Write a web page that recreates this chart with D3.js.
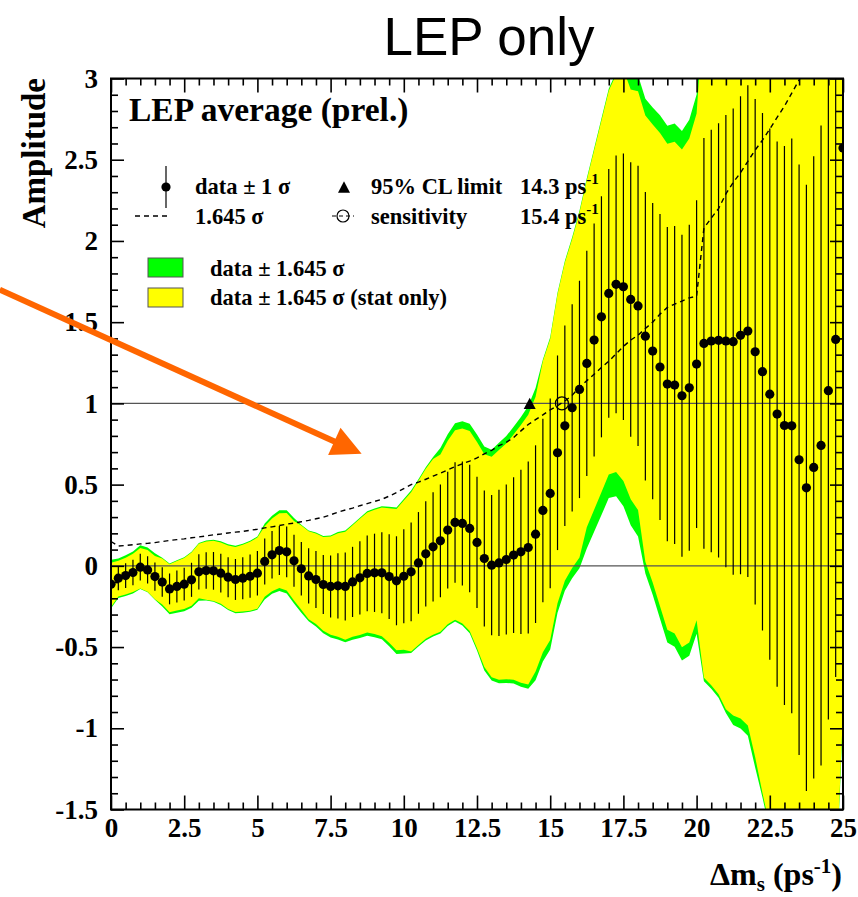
<!DOCTYPE html>
<html>
<head>
<meta charset="utf-8">
<script src="https://cdn.jsdelivr.net/npm/d3@7/dist/d3.min.js"></script>
<style>
  body { margin: 0; background: #fff; }
  svg { display: block; }
</style>
</head>
<body>
<svg id="chart" width="858" height="897"></svg>
<script>
// Oscillation frequency scan points (ps^-1)
const dm = [
  0, 0.25, 0.5, 0.75, 1, 1.25, 1.5, 1.75, 2, 2.25,
  2.5, 2.75, 3, 3.25, 3.5, 3.75, 4, 4.25, 4.5, 4.75,
  5, 5.25, 5.5, 5.75, 6, 6.25, 6.5, 6.75, 7, 7.25,
  7.5, 7.75, 8, 8.25, 8.5, 8.75, 9, 9.25, 9.5, 9.75,
  10, 10.25, 10.5, 10.75, 11, 11.25, 11.5, 11.75, 12, 12.25,
  12.5, 12.75, 13, 13.25, 13.5, 13.75, 14, 14.25, 14.5, 14.75,
  15, 15.25, 15.5, 15.75, 16, 16.25, 16.5, 16.75, 17, 17.25,
  17.5, 17.75, 18, 18.25, 18.5, 18.75, 19, 19.25, 19.5, 19.75,
  20, 20.25, 20.5, 20.75, 21, 21.25, 21.5, 21.75, 22, 22.25,
  22.5, 22.75, 23, 23.25, 23.5, 23.75, 24, 24.25, 24.5, 24.75,
  25
];

// Fitted amplitude at each scan point
const amplitude = [
  -0.113, -0.076, -0.060, -0.041, -0.008, -0.025, -0.066, -0.100, -0.142, -0.127,
  -0.113, -0.086, -0.037, -0.029, -0.031, -0.045, -0.070, -0.084, -0.076, -0.064,
  -0.045, 0.027, 0.068, 0.094, 0.086, 0.031, -0.018, -0.062, -0.084, -0.115,
  -0.127, -0.123, -0.127, -0.099, -0.074, -0.047, -0.043, -0.043, -0.066, -0.092,
  -0.064, -0.037, 0.018, 0.074, 0.117, 0.154, 0.220, 0.267, 0.261, 0.230,
  0.144, 0.045, 0.004, 0.018, 0.039, 0.066, 0.086, 0.113, 0.195, 0.341,
  0.446, 0.696, 0.862, 0.973, 1.086, 1.246, 1.390, 1.533, 1.677, 1.733,
  1.718, 1.640, 1.600, 1.414, 1.322, 1.224, 1.119, 1.113, 1.047, 1.096,
  1.242, 1.369, 1.384, 1.388, 1.384, 1.380, 1.419, 1.445, 1.318, 1.195,
  1.057, 0.934, 0.864, 0.862, 0.653, 0.480, 0.606, 0.741, 1.078, 1.394,
  2.572
];

// Total (stat + syst) uncertainty on the amplitude
const sigmaTot = [
  0.091, 0.074, 0.076, 0.079, 0.082, 0.084, 0.087, 0.091, 0.095, 0.098,
  0.101, 0.105, 0.108, 0.112, 0.116, 0.119, 0.123, 0.126, 0.129, 0.133,
  0.137, 0.142, 0.146, 0.151, 0.156, 0.160, 0.165, 0.170, 0.176, 0.182,
  0.191, 0.201, 0.209, 0.216, 0.225, 0.233, 0.241, 0.249, 0.261, 0.274,
  0.289, 0.304, 0.313, 0.324, 0.336, 0.347, 0.359, 0.371, 0.382, 0.392,
  0.404, 0.419, 0.432, 0.450, 0.462, 0.480, 0.505, 0.529, 0.547, 0.565,
  0.584, 0.599, 0.617, 0.638, 0.669, 0.693, 0.717, 0.742, 0.766, 0.793,
  0.821, 0.845, 0.863, 0.888, 0.912, 0.942, 0.967, 0.979, 0.991, 1.003,
  1.009, 1.264, 1.301, 1.337, 1.392, 1.435, 1.471, 1.514, 1.556, 1.593,
  1.635, 1.678, 1.720, 1.769, 1.818, 1.866, 1.915, 1.970, 2.024, 2.079,
  2.128
];

// Statistical-only uncertainty, upward side
const sigmaStatUp = [
  0.080, 0.065, 0.067, 0.070, 0.072, 0.074, 0.077, 0.088, 0.092, 0.095,
  0.098, 0.102, 0.105, 0.109, 0.113, 0.115, 0.119, 0.122, 0.125, 0.129,
  0.133, 0.132, 0.136, 0.140, 0.145, 0.149, 0.162, 0.167, 0.172, 0.178,
  0.187, 0.197, 0.205, 0.212, 0.221, 0.228, 0.236, 0.244, 0.256, 0.269,
  0.283, 0.298, 0.307, 0.318, 0.329, 0.323, 0.334, 0.345, 0.355, 0.365,
  0.376, 0.390, 0.406, 0.423, 0.434, 0.451, 0.475, 0.497, 0.514, 0.559,
  0.578, 0.593, 0.611, 0.632, 0.662, 0.686, 0.710, 0.735, 0.758, 0.785,
  0.813, 0.786, 0.803, 0.826, 0.848, 0.876, 0.899, 0.910, 0.922, 0.933,
  0.938, 1.251, 1.288, 1.324, 1.378, 1.421, 1.456, 1.499, 1.540, 1.577,
  1.619, 1.661, 1.703, 1.751, 1.800, 1.847, 1.896, 1.950, 2.004, 2.058,
  2.107
];

// Statistical-only uncertainty, downward side
const sigmaStatDown = [
  0.085, 0.069, 0.071, 0.073, 0.080, 0.082, 0.085, 0.084, 0.087, 0.090,
  0.093, 0.097, 0.099, 0.109, 0.113, 0.115, 0.119, 0.122, 0.125, 0.129,
  0.133, 0.132, 0.136, 0.140, 0.145, 0.149, 0.153, 0.162, 0.167, 0.173,
  0.181, 0.191, 0.199, 0.205, 0.214, 0.221, 0.229, 0.237, 0.248, 0.260,
  0.275, 0.298, 0.307, 0.318, 0.329, 0.340, 0.352, 0.364, 0.374, 0.384,
  0.396, 0.406, 0.419, 0.437, 0.448, 0.466, 0.490, 0.513, 0.514, 0.531,
  0.549, 0.563, 0.580, 0.600, 0.629, 0.613, 0.635, 0.657, 0.678, 0.702,
  0.727, 0.748, 0.764, 0.844, 0.866, 0.895, 0.919, 0.930, 0.941, 0.953,
  0.959, 1.251, 1.288, 1.324, 1.378, 1.399, 1.434, 1.476, 1.517, 1.577,
  1.619, 1.661, 1.703, 1.751, 1.800, 1.847, 1.896, 1.950, 2.004, 2.058,
  2.107
];

const xTicks = [0, 2.5, 5, 7.5, 10, 12.5, 15, 17.5, 20, 22.5, 25];
const xTickLabels = ["0", "2.5", "5", "7.5", "10", "12.5", "15", "17.5", "20", "22.5", "25"];
const yTicks = [-1.5, -1, -0.5, 0, 0.5, 1, 1.5, 2, 2.5, 3];
const yTickLabels = ["-1.5", "-1", "-0.5", "0", "0.5", "1", "1.5", "2", "2.5", "3"];

const limit95 = 14.3;      // 95% CL lower limit
const sensitivity = 15.4;  // sensitivity
const CL = 1.645;

// Annotation arrow, in (Δm_s, amplitude) units
const arrowFrom = [-3.8, 1.70];
const arrowTo = [8.56, 0.69];

const serif = "'Liberation Serif', 'Times New Roman', Times, serif";
const svg = d3.select("#chart");

const x = d3.scaleLinear().domain([0, 25]).range([111, 843]);
const y = d3.scaleLinear().domain([-1.5, 3]).range([809.5, 78.5]);

const pts = dm.map((d, i) => ({
  dm: d, a: amplitude[i], s: sigmaTot[i], su: sigmaStatUp[i], sd: sigmaStatDown[i]
}));

svg.append("defs").append("clipPath").attr("id", "plotClip")
  .append("rect")
  .attr("x", x(0)).attr("y", y(3))
  .attr("width", x(25) - x(0)).attr("height", y(-1.5) - y(3));

const plot = svg.append("g").attr("clip-path", "url(#plotClip)");

// Bands: total and stat-only 1.645 sigma
plot.append("path")
  .datum(pts)
  .attr("fill", "#00ff00")
  .attr("d", d3.area()
    .x(d => x(d.dm))
    .y0(d => y(d.a - CL * d.s))
    .y1(d => y(d.a + CL * d.s)));

plot.append("path")
  .datum(pts)
  .attr("fill", "#ffff00")
  .attr("d", d3.area()
    .x(d => x(d.dm))
    .y0(d => y(d.a - CL * d.sd))
    .y1(d => y(d.a + CL * d.su)));

// Reference lines at amplitude 0 and 1
[0, 1].forEach(v => {
  plot.append("line")
    .attr("x1", x(0)).attr("x2", x(25))
    .attr("y1", y(v)).attr("y2", y(v))
    .attr("stroke", "#555").attr("stroke-width", 1.3);
});

// 1.645 sigma curve
plot.append("path")
  .datum(pts)
  .attr("fill", "none")
  .attr("stroke", "#000")
  .attr("stroke-width", 1.4)
  .attr("stroke-dasharray", "5,4")
  .attr("d", d3.line().x(d => x(d.dm)).y(d => y(CL * d.s)));

// Error bars (±1 sigma)
plot.selectAll("line.err")
  .data(pts)
  .join("line")
  .attr("class", "err")
  .attr("x1", d => x(d.dm)).attr("x2", d => x(d.dm))
  .attr("y1", d => y(d.a - d.s)).attr("y2", d => y(d.a + d.s))
  .attr("stroke", "#000").attr("stroke-width", 1.2);

// Data points
plot.selectAll("circle.pt")
  .data(pts)
  .join("circle")
  .attr("class", "pt")
  .attr("cx", d => x(d.dm)).attr("cy", d => y(d.a))
  .attr("r", 4.6)
  .attr("fill", "#000");

// 95% CL limit marker
const triPath = (cx, cy, s) =>
  `M${cx - s},${cy + s * 0.95}L${cx + s},${cy + s * 0.95}L${cx},${cy - s * 0.95}Z`;
plot.append("path")
  .attr("d", triPath(x(limit95), y(1), 6))
  .attr("fill", "#000");

// Sensitivity marker
plot.append("circle")
  .attr("cx", x(sensitivity)).attr("cy", y(1))
  .attr("r", 6.5)
  .attr("fill", "none").attr("stroke", "#000").attr("stroke-width", 1.2);

// Axes (ticks pointing inward)
function styleAxis(g) {
  g.select(".domain").remove();
  g.selectAll("line").attr("stroke", "#000").attr("stroke-width", 1.6);
  g.selectAll("text")
    .attr("font-family", serif)
    .attr("font-weight", "bold")
    .attr("font-size", 27)
    .attr("fill", "#000");
}
const xMinor = d3.range(0, 25.001, 0.5).filter(v => Math.abs(v / 2.5 - Math.round(v / 2.5)) > 1e-6);
const yMinor = d3.range(-1.5, 3.001, 0.1).filter(v => Math.abs(v / 0.5 - Math.round(v / 0.5)) > 1e-6);

svg.append("g").attr("transform", `translate(0,${y(-1.5)})`)
  .call(d3.axisBottom(x).tickValues(xTicks).tickFormat((d, i) => xTickLabels[i]).tickSize(-14).tickPadding(8))
  .call(styleAxis);
svg.append("g").attr("transform", `translate(0,${y(-1.5)})`)
  .call(d3.axisBottom(x).tickValues(xMinor).tickFormat("").tickSize(-7))
  .call(styleAxis);
svg.append("g").attr("transform", `translate(0,${y(3)})`)
  .call(d3.axisTop(x).tickValues(xTicks).tickFormat("").tickSize(-14))
  .call(styleAxis);
svg.append("g").attr("transform", `translate(0,${y(3)})`)
  .call(d3.axisTop(x).tickValues(xMinor).tickFormat("").tickSize(-7))
  .call(styleAxis);

svg.append("g").attr("transform", `translate(${x(0)},0)`)
  .call(d3.axisLeft(y).tickValues(yTicks).tickFormat((d, i) => yTickLabels[i]).tickSize(-13).tickPadding(13))
  .call(styleAxis);
svg.append("g").attr("transform", `translate(${x(0)},0)`)
  .call(d3.axisLeft(y).tickValues(yMinor).tickFormat("").tickSize(-7))
  .call(styleAxis);
svg.append("g").attr("transform", `translate(${x(25)},0)`)
  .call(d3.axisRight(y).tickValues(yTicks).tickFormat("").tickSize(-13))
  .call(styleAxis);
svg.append("g").attr("transform", `translate(${x(25)},0)`)
  .call(d3.axisRight(y).tickValues(yMinor).tickFormat("").tickSize(-7))
  .call(styleAxis);

// Frame
svg.append("rect")
  .attr("x", x(0)).attr("y", y(3))
  .attr("width", x(25) - x(0)).attr("height", y(-1.5) - y(3))
  .attr("fill", "none").attr("stroke", "#000").attr("stroke-width", 2);

// Title
svg.append("text")
  .attr("x", 489).attr("y", 55)
  .attr("text-anchor", "middle")
  .attr("font-family", "'Liberation Sans', Arial, Helvetica, sans-serif")
  .attr("font-size", 53)
  .attr("fill", "#000")
  .text("LEP only");

// Axis titles
svg.append("text")
  .attr("transform", "translate(45,78) rotate(-90)")
  .attr("text-anchor", "end")
  .attr("font-family", serif).attr("font-weight", "bold")
  .attr("font-size", 33).attr("fill", "#000")
  .text("Amplitude");

const xTitle = svg.append("text")
  .attr("x", 842).attr("y", 885)
  .attr("text-anchor", "end")
  .attr("font-family", serif).attr("font-weight", "bold")
  .attr("font-size", 32).attr("fill", "#000");
xTitle.append("tspan").text("Δm");
xTitle.append("tspan").attr("font-size", 21).attr("dy", 6).text("s");
xTitle.append("tspan").attr("dy", -6).text(" (ps");
xTitle.append("tspan").attr("font-size", 21).attr("dy", -12).text("-1");
xTitle.append("tspan").attr("dy", 12).text(")");

// Legend
const lg = svg.append("g")
  .attr("font-family", serif).attr("font-weight", "bold").attr("fill", "#000");

lg.append("text").attr("x", 129).attr("y", 121).attr("font-size", 33.5)
  .text("LEP average (prel.)");

const fs = 22.5;
// row 1
lg.append("line").attr("x1", 166).attr("x2", 166).attr("y1", 166).attr("y2", 208)
  .attr("stroke", "#000").attr("stroke-width", 1.2);
lg.append("circle").attr("cx", 166).attr("cy", 187).attr("r", 4.6).attr("fill", "#000");
lg.append("text").attr("x", 195).attr("y", 194).attr("font-size", fs).text("data ± 1 σ");
lg.append("path").attr("d", triPath(344, 187, 6)).attr("fill", "#000");
lg.append("text").attr("x", 371).attr("y", 194).attr("font-size", fs).text("95% CL limit");
const t1 = lg.append("text").attr("x", 520).attr("y", 194).attr("font-size", fs);
t1.append("tspan").text(`${limit95} ps`);
t1.append("tspan").attr("font-size", 15).attr("dy", -10).text("-1");

// row 2
lg.append("line").attr("x1", 135).attr("x2", 169).attr("y1", 216).attr("y2", 216)
  .attr("stroke", "#000").attr("stroke-width", 1.3).attr("stroke-dasharray", "5,4");
lg.append("text").attr("x", 195).attr("y", 224).attr("font-size", fs).text("1.645 σ");
lg.append("line").attr("x1", 332).attr("x2", 354).attr("y1", 216).attr("y2", 216)
  .attr("stroke", "#000").attr("stroke-width", 1.2).attr("stroke-dasharray", "4,3");
lg.append("circle").attr("cx", 343).attr("cy", 216).attr("r", 6)
  .attr("fill", "none").attr("stroke", "#000").attr("stroke-width", 1.2);
lg.append("text").attr("x", 371).attr("y", 224).attr("font-size", fs).text("sensitivity");
const t2 = lg.append("text").attr("x", 520).attr("y", 224).attr("font-size", fs);
t2.append("tspan").text(`${sensitivity} ps`);
t2.append("tspan").attr("font-size", 15).attr("dy", -10).text("-1");

// band boxes
lg.append("rect").attr("x", 148).attr("y", 258).attr("width", 35).attr("height", 19)
  .attr("fill", "#00ff00").attr("stroke", "#555").attr("stroke-width", 1);
lg.append("text").attr("x", 210).attr("y", 276).attr("font-size", fs).text("data ± 1.645 σ");
lg.append("rect").attr("x", 148).attr("y", 288).attr("width", 35).attr("height", 19)
  .attr("fill", "#ffff00").attr("stroke", "#555").attr("stroke-width", 1);
lg.append("text").attr("x", 210).attr("y", 305).attr("font-size", fs).text("data ± 1.645 σ (stat only)");

// Annotation arrow
{
  const x0 = x(arrowFrom[0]), y0 = y(arrowFrom[1]);
  const x1 = x(arrowTo[0]), y1 = y(arrowTo[1]);
  const len = Math.hypot(x1 - x0, y1 - y0);
  const ux = (x1 - x0) / len, uy = (y1 - y0) / len;
  const headL = 30, headW = 15;
  const bx = x1 - ux * headL, by = y1 - uy * headL;
  svg.append("line")
    .attr("x1", x0).attr("y1", y0).attr("x2", bx + ux * 2).attr("y2", by + uy * 2)
    .attr("stroke", "#ff6600").attr("stroke-width", 6);
  svg.append("path")
    .attr("d", `M${x1},${y1}L${bx - uy * headW},${by + ux * headW}L${bx + uy * headW},${by - ux * headW}Z`)
    .attr("fill", "#ff6600");
}
</script>
</body>
</html>
